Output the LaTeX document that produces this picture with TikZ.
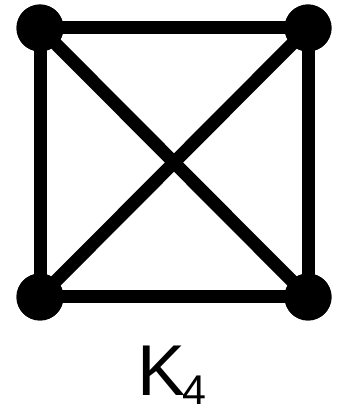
\documentclass[tikz,border=0pt]{standalone}
\usepackage{fontspec}
\setmainfont{Liberation Sans}
\begin{document}
\begin{tikzpicture}[x=1pt,y=1pt,
  vert/.style={circle,fill=black,inner sep=0pt,minimum size=47pt},
  edge/.style={line width=13pt}]
\useasboundingbox (0,0) rectangle (337,404);
\node[vert] (a) at (40,376) {};
\node[vert] (b) at (308,376) {};
\node[vert] (c) at (40,107) {};
\node[vert] (d) at (308,107) {};
\draw[edge] (a.center) -- (b.center) -- (d.center) -- (c.center) -- cycle;
\draw[edge] (a.center) -- (d.center);
\draw[edge] (b.center) -- (c.center);
\node[vert] at (a) {};
\node[vert] at (b) {};
\node[vert] at (c) {};
\node[vert] at (d) {};
\node[anchor=base west,inner sep=0pt,font=\fontsize{72}{86}\selectfont] (k) at (137,9) {K};
\node[anchor=base west,inner sep=0pt,font=\fontsize{43}{50}\selectfont] (s) at ([xshift=-3pt]k.base east |- 0,-1.5) {4};
\end{tikzpicture}
\end{document}
